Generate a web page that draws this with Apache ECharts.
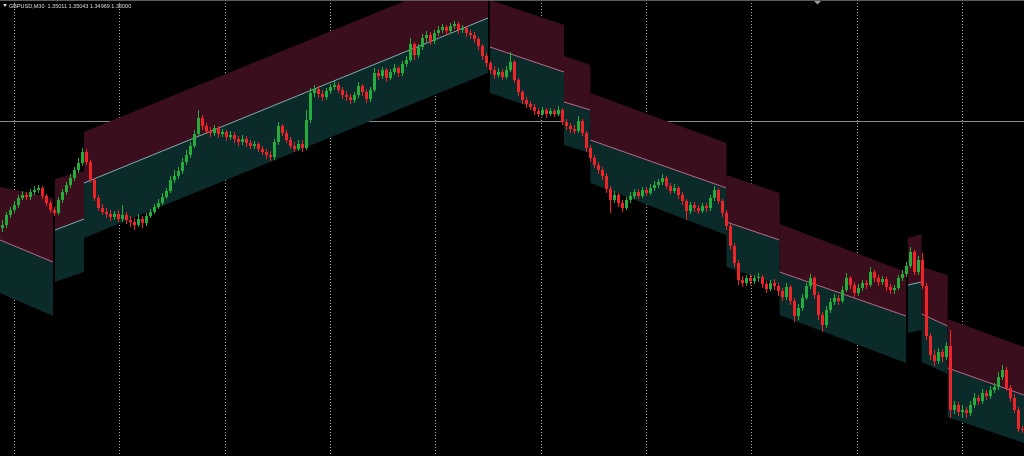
<!DOCTYPE html>
<html><head><meta charset="utf-8">
<style>html,body{margin:0;padding:0;background:#000;}#c{width:1024px;height:456px;}</style>
<script src="https://cdn.jsdelivr.net/npm/echarts@6/dist/echarts.min.js"></script>
</head><body><div id="c"></div>
<script>
// ---- data ----
const symbolLabel = 'GBPUSD,M30';
const lastOHLC = ['1.35011', '1.35043', '1.34969', '1.35000'];
const priceMin = 1.3474, priceMax = 1.3930;
const hLinePrice = 1.3809;
const gridBars = [3, 29.3, 55.65, 82, 108.3, 134.65, 161, 187.3, 213.65, 240];
// channel segments: [startBar, endBar, top0, top1, mid0, mid1, bottom0, bottom1]
const channels = [
  [-0.5, 12.75, 1.3743, 1.3732, 1.3690, 1.3668, 1.3637, 1.3614],
  [13.25, 20.5, 1.3751, 1.3759, 1.3700, 1.3711, 1.3648, 1.3658],
  [20.5, 121.5, 1.3798, 1.3963, 1.3747, 1.3912, 1.3692, 1.3857],
  [122, 140.5, 1.3930, 1.3905, 1.3883, 1.3858, 1.3837, 1.3812],
  [140.5, 147.1, 1.3874, 1.3865, 1.3828, 1.3820, 1.3785, 1.3777],
  [147.1, 181.1, 1.3837, 1.3787, 1.3790, 1.3742, 1.3747, 1.3695],
  [181.1, 194.4, 1.3755, 1.3737, 1.3708, 1.3690, 1.3663, 1.3645],
  [194.4, 226, 1.3706, 1.3658, 1.3658, 1.3614, 1.3615, 1.3567],
  [226.5, 229.9, 1.3692, 1.3696, 1.3645, 1.3648, 1.3597, 1.3600],
  [229.9, 236.4, 1.3663, 1.3655, 1.3616, 1.3604, 1.3568, 1.3556],
  [236.4, 255.5, 1.3611, 1.3583, 1.3562, 1.3535, 1.3513, 1.3487]
];
// candles: [open, close, low, high]
const candles = [
[1.3702,1.3705,1.3698,1.3710],[1.3705,1.3715,1.3702,1.3718],[1.3715,1.3720,1.3712,1.3723],[1.3720,1.3725,1.3717,1.3729],
[1.3725,1.3732,1.3722,1.3735],[1.3732,1.3735,1.3730,1.3739],[1.3735,1.3733,1.3730,1.3738],[1.3733,1.3738,1.3730,1.3741],
[1.3738,1.3740,1.3735,1.3744],[1.3740,1.3742,1.3737,1.3745],[1.3742,1.3734,1.3731,1.3744],[1.3734,1.3727,1.3724,1.3736],
[1.3727,1.3720,1.3717,1.3729],[1.3720,1.3717,1.3714,1.3723],[1.3717,1.3730,1.3715,1.3733],[1.3730,1.3738,1.3727,1.3741],
[1.3738,1.3745,1.3735,1.3748],[1.3745,1.3752,1.3742,1.3756],[1.3752,1.3760,1.3749,1.3763],[1.3760,1.3767,1.3757,1.3772],
[1.3767,1.3778,1.3764,1.3782],[1.3778,1.3768,1.3765,1.3781],[1.3768,1.3750,1.3747,1.3770],[1.3750,1.3732,1.3729,1.3752],
[1.3732,1.3722,1.3719,1.3735],[1.3722,1.3718,1.3715,1.3726],[1.3718,1.3716,1.3712,1.3722],[1.3716,1.3713,1.3709,1.3720],
[1.3713,1.3716,1.3710,1.3719],[1.3716,1.3711,1.3708,1.3720],[1.3711,1.3715,1.3708,1.3725],[1.3715,1.3710,1.3706,1.3718],
[1.3710,1.3708,1.3703,1.3714],[1.3708,1.3705,1.3700,1.3712],[1.3705,1.3711,1.3703,1.3716],[1.3711,1.3707,1.3702,1.3714],
[1.3707,1.3714,1.3704,1.3717],[1.3714,1.3718,1.3712,1.3721],[1.3718,1.3723,1.3716,1.3726],[1.3723,1.3727,1.3721,1.3731],
[1.3727,1.3733,1.3725,1.3737],[1.3733,1.3739,1.3731,1.3742],[1.3739,1.3750,1.3737,1.3754],[1.3750,1.3754,1.3747,1.3760],
[1.3754,1.3759,1.3751,1.3763],[1.3759,1.3768,1.3756,1.3772],[1.3768,1.3775,1.3765,1.3780],[1.3775,1.3784,1.3772,1.3788],
[1.3784,1.3796,1.3782,1.3800],[1.3796,1.3812,1.3794,1.3820],[1.3812,1.3804,1.3800,1.3815],[1.3804,1.3799,1.3796,1.3807],
[1.3799,1.3797,1.3793,1.3803],[1.3797,1.3802,1.3794,1.3805],[1.3802,1.3796,1.3792,1.3804],[1.3796,1.3798,1.3793,1.3801],
[1.3798,1.3793,1.3789,1.3800],[1.3793,1.3795,1.3790,1.3799],[1.3795,1.3791,1.3787,1.3798],[1.3791,1.3788,1.3784,1.3794],
[1.3788,1.3791,1.3785,1.3795],[1.3791,1.3787,1.3783,1.3794],[1.3787,1.3784,1.3781,1.3790],[1.3784,1.3786,1.3781,1.3789],
[1.3786,1.3781,1.3778,1.3788],[1.3781,1.3778,1.3775,1.3784],[1.3778,1.3775,1.3771,1.3781],[1.3775,1.3773,1.3769,1.3779],
[1.3773,1.3788,1.3770,1.3791],[1.3788,1.3804,1.3785,1.3808],[1.3804,1.3797,1.3794,1.3806],[1.3797,1.3790,1.3787,1.3800],
[1.3790,1.3784,1.3781,1.3793],[1.3784,1.3781,1.3778,1.3788],[1.3781,1.3786,1.3779,1.3790],[1.3786,1.3782,1.3778,1.3790],
[1.3782,1.3810,1.3780,1.3820],[1.3810,1.3837,1.3807,1.3842],[1.3837,1.3841,1.3833,1.3845],[1.3841,1.3836,1.3832,1.3844],
[1.3836,1.3833,1.3829,1.3840],[1.3833,1.3839,1.3830,1.3842],[1.3839,1.3843,1.3836,1.3846],[1.3843,1.3845,1.3840,1.3849],
[1.3845,1.3840,1.3837,1.3848],[1.3840,1.3835,1.3831,1.3843],[1.3835,1.3833,1.3829,1.3839],[1.3833,1.3830,1.3826,1.3836],
[1.3830,1.3835,1.3827,1.3838],[1.3835,1.3844,1.3832,1.3848],[1.3844,1.3838,1.3834,1.3846],[1.3838,1.3831,1.3827,1.3841],
[1.3831,1.3840,1.3828,1.3843],[1.3840,1.3857,1.3838,1.3862],[1.3857,1.3854,1.3850,1.3861],[1.3854,1.3860,1.3851,1.3863],
[1.3860,1.3852,1.3848,1.3862],[1.3852,1.3858,1.3850,1.3861],[1.3858,1.3862,1.3855,1.3866],[1.3862,1.3857,1.3853,1.3864],
[1.3857,1.3866,1.3854,1.3869],[1.3866,1.3870,1.3863,1.3874],[1.3870,1.3886,1.3868,1.3892],[1.3886,1.3875,1.3870,1.3888],
[1.3875,1.3883,1.3872,1.3886],[1.3883,1.3892,1.3880,1.3896],[1.3892,1.3895,1.3888,1.3899],[1.3895,1.3889,1.3885,1.3898],
[1.3889,1.3897,1.3886,1.3900],[1.3897,1.3900,1.3894,1.3904],[1.3900,1.3903,1.3897,1.3906],[1.3903,1.3899,1.3895,1.3905],
[1.3899,1.3904,1.3896,1.3907],[1.3904,1.3906,1.3901,1.3909],[1.3906,1.3900,1.3896,1.3908],[1.3900,1.3902,1.3897,1.3905],
[1.3902,1.3897,1.3893,1.3904],[1.3897,1.3895,1.3891,1.3900],[1.3895,1.3891,1.3887,1.3898],[1.3891,1.3884,1.3880,1.3893],
[1.3884,1.3874,1.3870,1.3886],[1.3874,1.3867,1.3863,1.3877],[1.3867,1.3860,1.3856,1.3869],[1.3860,1.3855,1.3851,1.3864],
[1.3855,1.3858,1.3852,1.3862],[1.3858,1.3853,1.3850,1.3861],[1.3853,1.3860,1.3851,1.3864],[1.3860,1.3868,1.3858,1.3878],
[1.3868,1.3850,1.3847,1.3870],[1.3850,1.3838,1.3834,1.3852],[1.3838,1.3830,1.3826,1.3840],[1.3830,1.3826,1.3822,1.3833],
[1.3826,1.3823,1.3820,1.3829],[1.3823,1.3819,1.3815,1.3826],[1.3819,1.3816,1.3813,1.3822],[1.3816,1.3820,1.3814,1.3823],
[1.3820,1.3816,1.3812,1.3822],[1.3816,1.3819,1.3814,1.3822],[1.3819,1.3816,1.3813,1.3821],[1.3816,1.3820,1.3814,1.3824],
[1.3820,1.3808,1.3805,1.3822],[1.3808,1.3804,1.3800,1.3811],[1.3804,1.3801,1.3797,1.3807],[1.3801,1.3799,1.3796,1.3805],
[1.3799,1.3809,1.3797,1.3814],[1.3809,1.3797,1.3794,1.3811],[1.3797,1.3782,1.3778,1.3799],[1.3782,1.3772,1.3768,1.3785],
[1.3772,1.3765,1.3762,1.3775],[1.3765,1.3760,1.3756,1.3768],[1.3760,1.3754,1.3750,1.3763],[1.3754,1.3741,1.3737,1.3757],
[1.3741,1.3730,1.3717,1.3744],[1.3730,1.3735,1.3727,1.3739],[1.3735,1.3727,1.3723,1.3737],[1.3727,1.3722,1.3718,1.3730],
[1.3722,1.3730,1.3720,1.3733],[1.3730,1.3734,1.3727,1.3738],[1.3734,1.3738,1.3731,1.3741],[1.3738,1.3734,1.3731,1.3741],
[1.3734,1.3740,1.3732,1.3743],[1.3740,1.3737,1.3734,1.3743],[1.3737,1.3742,1.3735,1.3746],[1.3742,1.3745,1.3739,1.3749],
[1.3745,1.3748,1.3742,1.3751],[1.3748,1.3752,1.3745,1.3756],[1.3752,1.3744,1.3741,1.3754],[1.3744,1.3739,1.3736,1.3747],
[1.3739,1.3742,1.3737,1.3746],[1.3742,1.3735,1.3731,1.3744],[1.3735,1.3729,1.3725,1.3738],[1.3729,1.3719,1.3710,1.3731],
[1.3719,1.3725,1.3716,1.3728],[1.3725,1.3722,1.3718,1.3728],[1.3722,1.3719,1.3716,1.3725],[1.3719,1.3724,1.3717,1.3727],
[1.3724,1.3722,1.3718,1.3727],[1.3722,1.3732,1.3719,1.3735],[1.3732,1.3740,1.3729,1.3744],[1.3740,1.3729,1.3726,1.3742],
[1.3729,1.3717,1.3713,1.3731],[1.3717,1.3704,1.3700,1.3720],[1.3704,1.3684,1.3680,1.3706],[1.3684,1.3667,1.3663,1.3687],
[1.3667,1.3650,1.3645,1.3670],[1.3650,1.3647,1.3643,1.3654],[1.3647,1.3652,1.3644,1.3655],[1.3652,1.3649,1.3645,1.3656],
[1.3649,1.3652,1.3646,1.3655],[1.3652,1.3653,1.3648,1.3657],[1.3653,1.3646,1.3642,1.3655],[1.3646,1.3641,1.3637,1.3649],
[1.3641,1.3647,1.3639,1.3650],[1.3647,1.3644,1.3640,1.3651],[1.3644,1.3639,1.3634,1.3647],[1.3639,1.3633,1.3629,1.3642],
[1.3633,1.3643,1.3630,1.3647],[1.3643,1.3629,1.3625,1.3645],[1.3629,1.3614,1.3608,1.3632],[1.3614,1.3622,1.3610,1.3626],
[1.3622,1.3632,1.3619,1.3636],[1.3632,1.3644,1.3630,1.3647],[1.3644,1.3652,1.3641,1.3656],[1.3652,1.3635,1.3631,1.3654],
[1.3635,1.3615,1.3610,1.3638],[1.3615,1.3605,1.3598,1.3618],[1.3605,1.3620,1.3602,1.3624],[1.3620,1.3628,1.3617,1.3632],
[1.3628,1.3632,1.3625,1.3636],[1.3632,1.3629,1.3625,1.3635],[1.3629,1.3640,1.3627,1.3644],[1.3640,1.3652,1.3638,1.3657],
[1.3652,1.3645,1.3641,1.3654],[1.3645,1.3637,1.3633,1.3648],[1.3637,1.3642,1.3634,1.3646],[1.3642,1.3647,1.3639,1.3650],
[1.3647,1.3645,1.3641,1.3650],[1.3645,1.3658,1.3643,1.3663],[1.3658,1.3652,1.3648,1.3660],[1.3652,1.3648,1.3644,1.3655],
[1.3648,1.3651,1.3645,1.3654],[1.3651,1.3643,1.3639,1.3653],[1.3643,1.3640,1.3636,1.3646],[1.3640,1.3642,1.3636,1.3645],
[1.3642,1.3652,1.3640,1.3655],[1.3652,1.3656,1.3649,1.3660],[1.3656,1.3664,1.3653,1.3668],[1.3664,1.3678,1.3662,1.3683],
[1.3678,1.3658,1.3655,1.3680],[1.3658,1.3670,1.3655,1.3674],[1.3670,1.3644,1.3641,1.3677],[1.3644,1.3594,1.3590,1.3647],
[1.3594,1.3575,1.3570,1.3597],[1.3575,1.3569,1.3564,1.3580],[1.3569,1.3578,1.3566,1.3582],[1.3578,1.3573,1.3568,1.3581],
[1.3573,1.3584,1.3570,1.3588],[1.3584,1.3520,1.3512,1.3600],[1.3520,1.3525,1.3516,1.3529],[1.3525,1.3518,1.3514,1.3528],
[1.3518,1.3520,1.3512,1.3525],[1.3520,1.3517,1.3512,1.3523],[1.3517,1.3525,1.3514,1.3529],[1.3525,1.3532,1.3522,1.3537],
[1.3532,1.3529,1.3525,1.3535],[1.3529,1.3537,1.3526,1.3541],[1.3537,1.3534,1.3530,1.3540],[1.3534,1.3540,1.3531,1.3544],
[1.3540,1.3543,1.3537,1.3547],[1.3543,1.3553,1.3540,1.3558],[1.3553,1.3560,1.3550,1.3565],[1.3560,1.3542,1.3539,1.3563],
[1.3542,1.3532,1.3528,1.3545],[1.3532,1.3520,1.3517,1.3536],[1.3520,1.3501,1.3498,1.3523],[1.35011,1.35000,1.34969,1.35043]
];

// ---- styles ----
const UP = '#24ad3c', DOWN = '#f02428';
const UPPER_FILL = '#3a0e1d', LOWER_FILL = '#0b2a2a';
const MID_DOWN = '#b86c8a', MID_UP = '#7fb0b0';

const chart = echarts.init(document.getElementById('c'), null, {renderer: 'canvas'});

function renderGrid(params, api) {
  const b = api.value(0);
  const p0 = api.coord([b, priceMax]);
  const p1 = api.coord([b, priceMin]);
  const x = Math.round(p0[0]) + 0.5;
  return {type: 'line', shape: {x1: x, y1: p0[1], x2: x, y2: p1[1]},
    style: {stroke: '#a8a8a8', lineWidth: 1, lineDash: [1, 2]}};
}
function renderHLine(params, api) {
  const p = api.value(1);
  const a = api.coord([-0.5, p]);
  const b = api.coord([candles.length - 0.5, p]);
  const y = Math.round(a[1]) + 0.5;
  return {type: 'line', shape: {x1: a[0], y1: y, x2: b[0], y2: y},
    style: {stroke: '#8a8a8a', lineWidth: 1}};
}
function renderBand(params, api) {
  const b0 = api.value(0), b1 = api.value(1);
  const t0 = api.coord([b0, api.value(2)]), t1 = api.coord([b1, api.value(3)]);
  const m0 = api.coord([b0, api.value(4)]), m1 = api.coord([b1, api.value(5)]);
  const d0 = api.coord([b0, api.value(6)]), d1 = api.coord([b1, api.value(7)]);
  const falling = api.value(5) < api.value(4);
  return {type: 'group', children: [
    {type: 'polygon', shape: {points: [t0, t1, m1, m0]}, style: {fill: UPPER_FILL}},
    {type: 'polygon', shape: {points: [m0, m1, d1, d0]}, style: {fill: LOWER_FILL}},
    {type: 'line', shape: {x1: m0[0], y1: m0[1], x2: m1[0], y2: m1[1]},
      style: {stroke: falling ? MID_DOWN : MID_UP, lineWidth: 1}}
  ]};
}
function renderCandle(params, api) {
  const i = api.value(0), o = api.value(1), c = api.value(2), l = api.value(3), h = api.value(4);
  const pO = api.coord([i, o]), pC = api.coord([i, c]), pL = api.coord([i, l]), pH = api.coord([i, h]);
  const x = Math.floor(pO[0]);
  const color = c >= o ? UP : DOWN;
  const top = Math.min(pO[1], pC[1]), bot = Math.max(pO[1], pC[1]);
  return {type: 'group', children: [
    {type: 'line', shape: {x1: x + 0.5, y1: pH[1], x2: x + 0.5, y2: pL[1]}, style: {stroke: color, lineWidth: 1}},
    {type: 'rect', shape: {x: x - 1, y: top, width: 3, height: Math.max(1, bot - top)}, style: {fill: color}}
  ]};
}

const option = {
  backgroundColor: '#000000',
  animation: false,
  grid: {left: 0, right: 0, top: 0, bottom: 0},
  xAxis: {type: 'value', min: -0.5, max: candles.length - 0.5, show: false},
  yAxis: {type: 'value', min: priceMin, max: priceMax, show: false},
  graphic: [
    {type: 'line', z: 100, shape: {x1: 0, y1: 0.5, x2: 1024, y2: 0.5}, style: {stroke: '#5c5c5c', lineWidth: 1}},
    {type: 'polygon', z: 100, shape: {points: [[814, 1], [821, 1], [817.5, 4.5]]}, style: {fill: '#9a9a9a'}},
    {type: 'polygon', z: 100, shape: {points: [[3, 4], [7, 4], [5, 7]]}, style: {fill: '#d8d8d8'}},
    {type: 'text', z: 100, left: 9, top: 3,
      style: {text: symbolLabel + '  ' + lastOHLC.join(' '), fill: '#dcdcdc', font: '5.5px "Liberation Sans"'}}
  ],
  series: [
    {type: 'custom', name: 'grid', z: 1, renderItem: renderGrid, silent: true,
      data: gridBars.map(b => [b, priceMin]), encode: {x: 0, y: 1}},
    {type: 'custom', name: 'hline', z: 1, renderItem: renderHLine, silent: true,
      data: [[0, hLinePrice]], encode: {x: 0, y: 1}},
    {type: 'custom', name: 'channel', z: 2, renderItem: renderBand, silent: true,
      data: channels, encode: {x: [0, 1], y: [2, 3, 4, 5, 6, 7]}},
    {type: 'custom', name: 'GBPUSD', z: 3, renderItem: renderCandle, silent: true,
      data: candles.map((q, i) => [i, q[0], q[1], q[2], q[3]]), encode: {x: 0, y: [1, 2, 3, 4]}}
  ]
};
chart.setOption(option);
</script>
</body></html>
